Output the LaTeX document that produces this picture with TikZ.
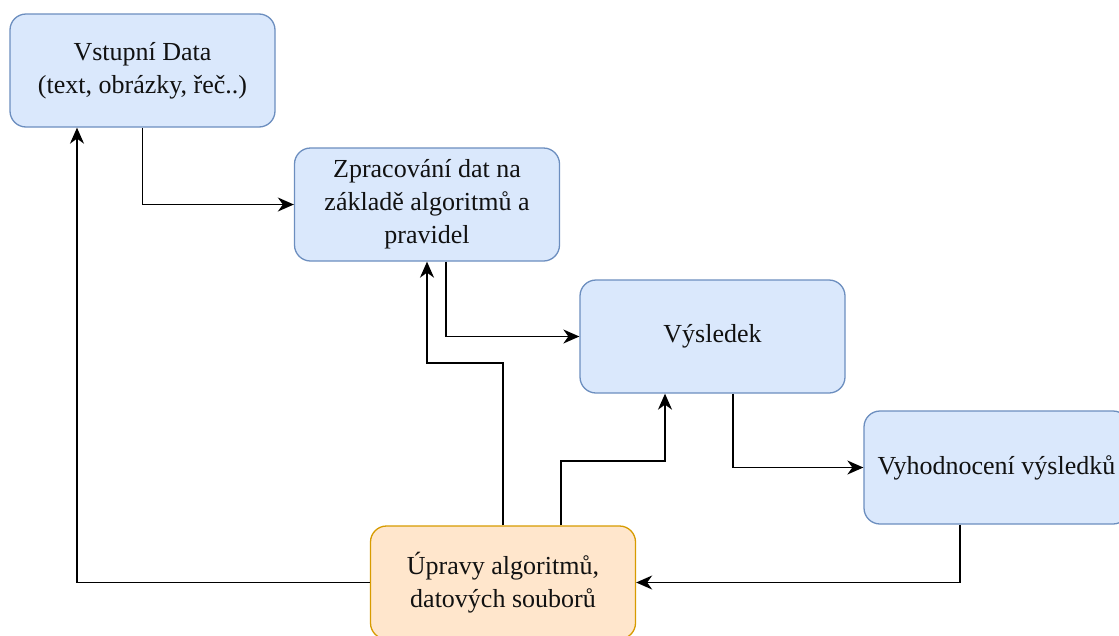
\documentclass[tikz,border=0pt]{standalone}
\usepackage{fontspec}
\setmainfont{Liberation Serif}
\newfontfamily\boxfont{Liberation Serif}
\usetikzlibrary{arrows.meta,calc}
\definecolor{bfill}{HTML}{DAE8FC}
\definecolor{bdraw}{HTML}{6C8EBF}
\definecolor{ofill}{HTML}{FFE6CC}
\definecolor{odraw}{HTML}{D79B00}
\definecolor{txt}{HTML}{111111}
\tikzset{
  boxstyle/.style={draw=bdraw, fill=bfill, rounded corners=16pt, line width=1.3pt,
    minimum width=265pt, minimum height=113pt, inner sep=0pt, align=center,
    text=txt, font=\boxfont\fontsize{26}{33}\selectfont},
  orangebox/.style={boxstyle, draw=odraw, fill=ofill},
  conn/.style={line width=1.5pt, -{Stealth[length=16pt,width=14pt,inset=5pt]}}
}
\begin{document}
\begin{tikzpicture}[x=1pt,y=-1pt]
\useasboundingbox (0,0) rectangle (1119,635);
\node[boxstyle] (A) at (142.5,70.5) {Vstupní Data\\(text, obrázky, řeč..)};
\node[boxstyle] (B) at (427,204.5) {Zpracování dat na\\základě algoritmů a\\pravidel};
\node[boxstyle] (C) at (712.5,336.5) {Výsledek};
\node[boxstyle] (D) at (996.5,467.5) {Vyhodnocení výsledků};
\node[orangebox] (E) at (503,582.5) {Úpravy algoritmů,\\datových souborů};
\draw[conn] (A.south) |- (B.west);
\draw[conn] ([xshift=19pt]B.south) |- (C.west);
\draw[conn] ([xshift=20.5pt]C.south) |- (D.west);
\draw[conn] ([xshift=-36.5pt]D.south) |- (E.east);
\coordinate (al) at ([xshift=-65.5pt]A.south);
\draw[conn] (E.west) -| (al);
\coordinate (eb) at (503,363);
\draw[conn] (E.north) -- (eb) -| (B.south);
\coordinate (ec1) at ([xshift=58pt]E.north);
\coordinate (ec2) at (561,461);
\draw[conn] (ec1) -- (ec2) -| ([xshift=-47.5pt]C.south);
\end{tikzpicture}
\end{document}
